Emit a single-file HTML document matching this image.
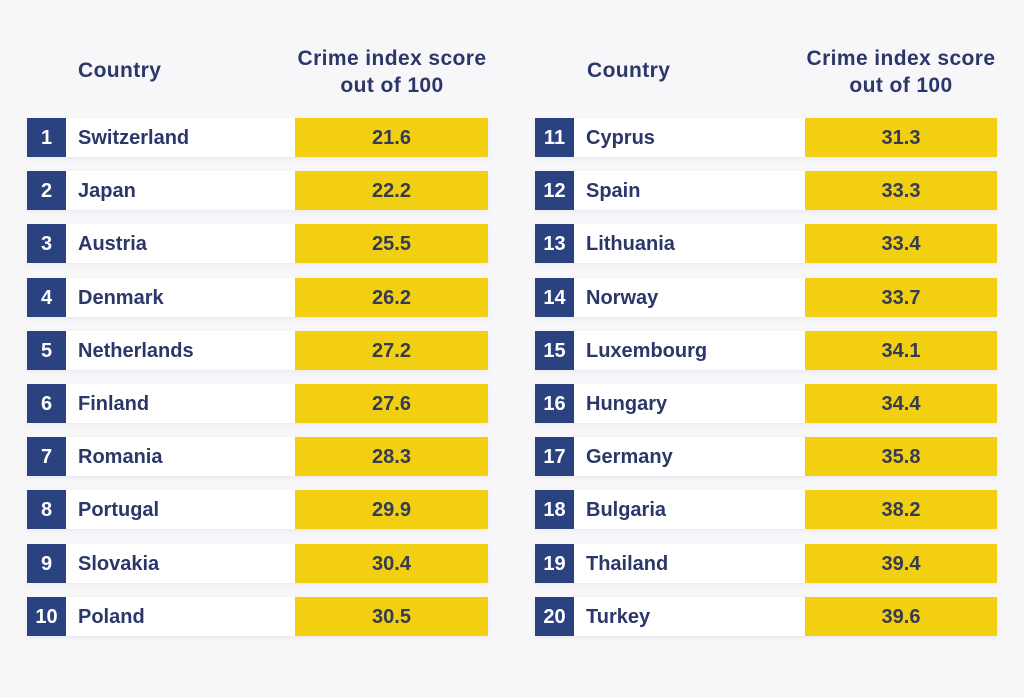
<!DOCTYPE html>
<html><head><meta charset="utf-8">
<style>
html,body{margin:0;padding:0;}
body{width:1024px;height:697px;background:#f7f7fa;position:relative;overflow:hidden;font-family:"Liberation Sans",sans-serif;}
.h{position:absolute;color:#2b3768;font-weight:bold;font-size:21px;letter-spacing:0.4px;}
.hc{text-align:center;width:220px;line-height:27px;}
.row{position:absolute;height:39px;box-shadow:0 2px 5px rgba(30,40,90,0.06);}
.num{position:absolute;left:0;top:0;width:39px;height:39px;background:#2b4280;color:#fff;font-weight:bold;font-size:20px;line-height:41px;text-align:center;}
.name{position:absolute;left:39px;top:0;width:229px;height:39px;background:#fff;color:#2b3768;font-weight:bold;font-size:20px;line-height:41px;padding-left:12px;box-sizing:border-box;}
.val{position:absolute;left:268px;top:0;width:193px;height:39px;background:#f2cf10;color:#343b52;font-weight:bold;font-size:20px;line-height:41px;text-align:center;}
.r2 .name{width:231px;}
.r2 .val{left:270px;width:192px;}
</style></head><body>
<div class="h" style="left:78px;top:59px;">Country</div>
<div class="h hc" style="left:282px;top:45px;">Crime index score<br>out of 100</div>
<div class="h" style="left:587px;top:59px;">Country</div>
<div class="h hc" style="left:791px;top:45px;">Crime index score<br>out of 100</div>

<div class="row" style="left:27px;top:118px;width:461px;"><div class="num">1</div><div class="name">Switzerland</div><div class="val">21.6</div></div>
<div class="row" style="left:27px;top:171px;width:461px;"><div class="num">2</div><div class="name">Japan</div><div class="val">22.2</div></div>
<div class="row" style="left:27px;top:224px;width:461px;"><div class="num">3</div><div class="name">Austria</div><div class="val">25.5</div></div>
<div class="row" style="left:27px;top:278px;width:461px;"><div class="num">4</div><div class="name">Denmark</div><div class="val">26.2</div></div>
<div class="row" style="left:27px;top:331px;width:461px;"><div class="num">5</div><div class="name">Netherlands</div><div class="val">27.2</div></div>
<div class="row" style="left:27px;top:384px;width:461px;"><div class="num">6</div><div class="name">Finland</div><div class="val">27.6</div></div>
<div class="row" style="left:27px;top:437px;width:461px;"><div class="num">7</div><div class="name">Romania</div><div class="val">28.3</div></div>
<div class="row" style="left:27px;top:490px;width:461px;"><div class="num">8</div><div class="name">Portugal</div><div class="val">29.9</div></div>
<div class="row" style="left:27px;top:544px;width:461px;"><div class="num">9</div><div class="name">Slovakia</div><div class="val">30.4</div></div>
<div class="row" style="left:27px;top:597px;width:461px;"><div class="num">10</div><div class="name">Poland</div><div class="val">30.5</div></div>

<div class="row r2" style="left:535px;top:118px;width:462px;"><div class="num">11</div><div class="name">Cyprus</div><div class="val">31.3</div></div>
<div class="row r2" style="left:535px;top:171px;width:462px;"><div class="num">12</div><div class="name">Spain</div><div class="val">33.3</div></div>
<div class="row r2" style="left:535px;top:224px;width:462px;"><div class="num">13</div><div class="name">Lithuania</div><div class="val">33.4</div></div>
<div class="row r2" style="left:535px;top:278px;width:462px;"><div class="num">14</div><div class="name">Norway</div><div class="val">33.7</div></div>
<div class="row r2" style="left:535px;top:331px;width:462px;"><div class="num">15</div><div class="name">Luxembourg</div><div class="val">34.1</div></div>
<div class="row r2" style="left:535px;top:384px;width:462px;"><div class="num">16</div><div class="name">Hungary</div><div class="val">34.4</div></div>
<div class="row r2" style="left:535px;top:437px;width:462px;"><div class="num">17</div><div class="name">Germany</div><div class="val">35.8</div></div>
<div class="row r2" style="left:535px;top:490px;width:462px;"><div class="num">18</div><div class="name">Bulgaria</div><div class="val">38.2</div></div>
<div class="row r2" style="left:535px;top:544px;width:462px;"><div class="num">19</div><div class="name">Thailand</div><div class="val">39.4</div></div>
<div class="row r2" style="left:535px;top:597px;width:462px;"><div class="num">20</div><div class="name">Turkey</div><div class="val">39.6</div></div>
</body></html>
